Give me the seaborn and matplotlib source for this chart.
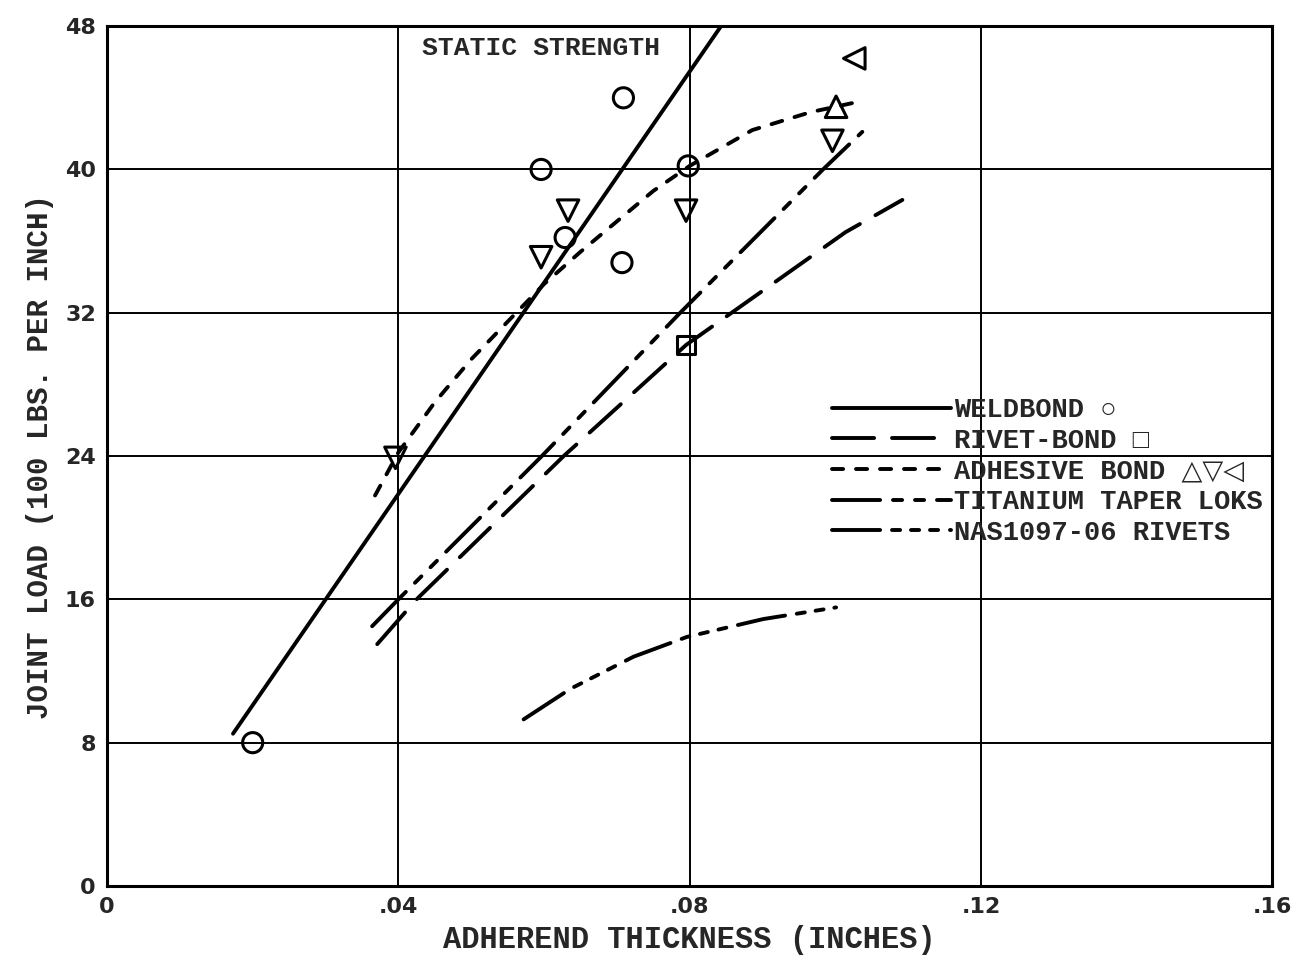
import pandas as pd
import matplotlib
matplotlib.use("Agg")
import matplotlib.pyplot as plt
import seaborn as sns

# lines (x in inches, y in 100 lbs per inch)
weld_x = [0.0173, 0.0843]
weld_y = [8.5, 48.0]

rivet_x = [0.0371, 0.0425, 0.0627, 0.0795, 0.1014, 0.1092]
rivet_y = [13.5, 16.0, 24.0, 30.2, 36.5, 38.3]

adh_x = [0.0368, 0.040, 0.045, 0.050, 0.055, 0.060, 0.065, 0.070, 0.075, 0.080, 0.0886, 0.0966, 0.1034]
adh_y = [21.8, 24.2, 27.0, 29.4, 31.5, 33.6, 35.4, 37.1, 38.8, 40.2, 42.2, 43.2, 43.8]

ti_x = [0.0364, 0.040, 0.0597, 0.0787, 0.0983, 0.1037]
ti_y = [14.5, 16.0, 24.0, 32.0, 40.0, 42.1]

nas_x = [0.0572, 0.0636, 0.0723, 0.0796, 0.0901, 0.1001]
nas_y = [9.3, 11.0, 12.8, 13.9, 14.9, 15.55]

# test points
circ_x = [0.020, 0.0596, 0.0629, 0.0707, 0.0709, 0.0798]
circ_y = [8.0, 40.0, 36.2, 34.8, 44.0, 40.2]
sq_x = [0.0795]
sq_y = [30.2]
tri_up_x = [0.1001]
tri_up_y = [43.5]
tri_dn_x = [0.0396, 0.0596, 0.0633, 0.0795, 0.0996]
tri_dn_y = [23.9, 35.1, 37.7, 37.7, 41.6]
tri_lf_x = [0.1026]
tri_lf_y = [46.2]

labels = ["WELDBOND \u25cb", "RIVET-BOND \u25a1", "ADHESIVE BOND \u25b3\u25bd\u25c1",
          "TITANIUM TAPER LOKS", "NAS1097-06 RIVETS"]

sns.set_style("white")
plt.rcParams["font.family"] = ["Liberation Mono", "DejaVu Sans"]

fig = plt.figure(figsize=(13.05, 9.69), dpi=100)
ax = fig.add_axes([0.082, 0.0857, 0.893, 0.8873])

lw = 2.8
cap = lw / 0.72  # round caps eat into the gaps


# dash patterns given in pixels (on, off, ...) -> linewidth units
def dp(*px):
    out = []
    for i, p in enumerate(px):
        p = p - cap if i % 2 == 0 else p + cap
        out.append(max(p, 0.5) * 0.72 / lw)
    return tuple(out)


series = [
    (weld_x, weld_y, labels[0], None),
    (rivet_x, rivet_y, labels[1], dp(46, 14)),
    (adh_x, adh_y, labels[2], dp(15, 9)),
    (ti_x, ti_y, labels[3], dp(52, 9, 13, 9, 13, 9)),
    (nas_x, nas_y, labels[4], dp(52, 8, 12, 7, 12, 7, 12, 8)),
]
handles = []
for xs, ys, lab, dash in series:
    df = pd.DataFrame({"x": xs, "y": ys})
    sns.lineplot(data=df, x="x", y="y", ax=ax, color="black", lw=lw,
                 sort=False, estimator=None, solid_capstyle="round",
                 dash_capstyle="round")
    line = ax.lines[-1]
    if dash is not None:
        line.set_dashes(dash)
    handles.append(line)

pts = [
    (circ_x, circ_y, "o", 210),
    (sq_x, sq_y, "s", 180),
    (tri_up_x, tri_up_y, "^", 240),
    (tri_dn_x, tri_dn_y, "v", 240),
    (tri_lf_x, tri_lf_y, "<", 240),
]
for xs, ys, m, s in pts:
    df = pd.DataFrame({"x": xs, "y": ys})
    sns.scatterplot(data=df, x="x", y="y", ax=ax, marker=m, s=s,
                    facecolor="none", edgecolor="black", linewidth=2.2, zorder=5)

ax.set_xlim(0, 0.16)
ax.set_ylim(0, 48)
ax.set_xticks([0, 0.04, 0.08, 0.12, 0.16])
ax.set_xticklabels(["0", ".04", ".08", ".12", ".16"])
ax.set_yticks([0, 8, 16, 24, 32, 40, 48])
ax.set_yticklabels(["0", "8", "16", "24", "32", "40", "48"])
ax.tick_params(length=0, pad=8)
for t in ax.get_xticklabels() + ax.get_yticklabels():
    t.set_fontfamily("DejaVu Sans")
    t.set_fontsize(16)
    t.set_fontweight("bold")

ax.grid(True, color="black", lw=1.4)
ax.set_axisbelow(True)
for sp in ax.spines.values():
    sp.set_color("black")
    sp.set_linewidth(2.2)

ax.set_xlabel("ADHEREND THICKNESS (INCHES)", fontsize=22, fontweight="bold", labelpad=6)
ax.set_ylabel("JOINT LOAD (100 LBS. PER INCH)", fontsize=21, fontweight="bold", labelpad=8)

ax.text(0.0596, 46.8, "STATIC STRENGTH", ha="center", va="center",
        fontsize=19, fontweight="bold")

ax.legend(handles, labels, loc="upper left", bbox_to_anchor=(0.627, 0.604),
          bbox_transform=fig.transFigure, frameon=False,
          handlelength=4.4, handletextpad=0.1, labelspacing=0.17,
          borderpad=0, prop={"family": ["Liberation Mono", "DejaVu Sans"],
                             "weight": "bold", "size": 19.5})

fig.savefig("out.png", dpi=100)
